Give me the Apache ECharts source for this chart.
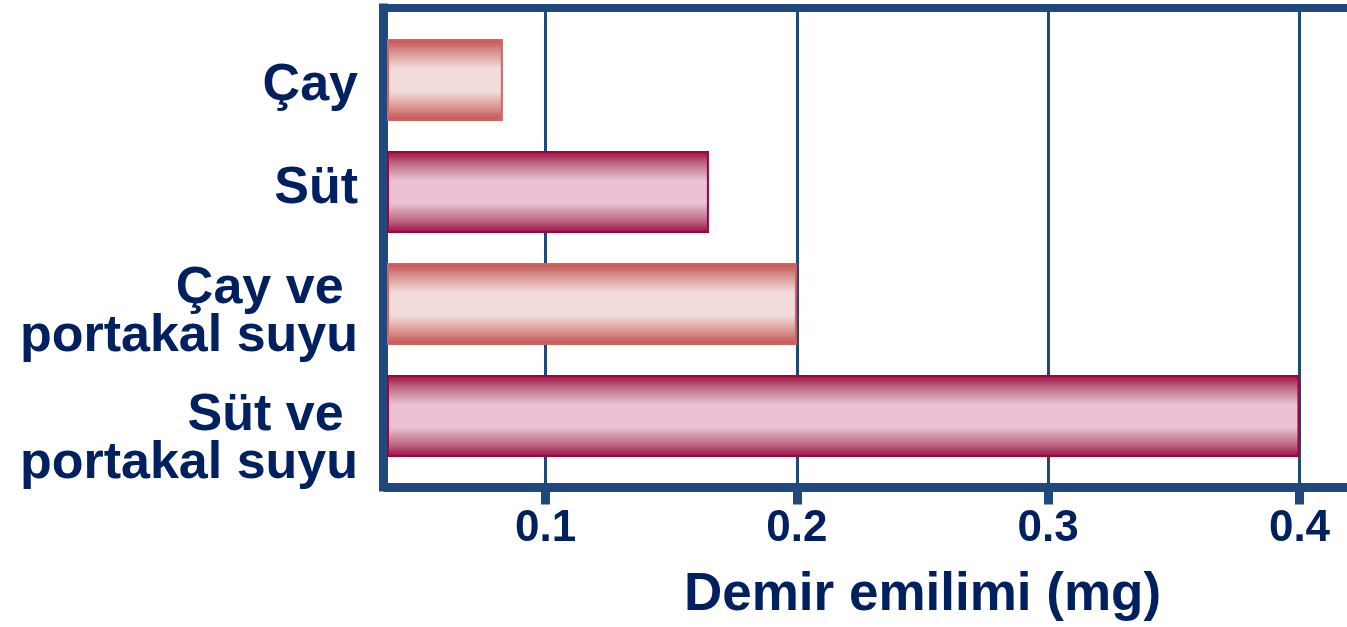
<!DOCTYPE html>
<html>
<head>
<meta charset="utf-8">
<script src="https://cdn.jsdelivr.net/npm/echarts@6/dist/echarts.min.js"></script>
<style>
  html, body { margin: 0; padding: 0; background: #ffffff; }
  #chart { width: 1347px; height: 627px; }
</style>
</head>
<body>
<div id="chart"></div>
<script>
// Iron absorption by drink combination
const categories = ['Çay', 'Süt', 'Çay ve \nportakal suyu', 'Süt ve \nportakal suyu'];
const values = [0.083, 0.165, 0.2, 0.4];
const drinkKind = ['tea', 'milk', 'tea', 'milk'];
const tickValues = [0.1, 0.2, 0.3, 0.4];
const axisTitle = 'Demir emilimi (mg)';
const xMin = 0.0373;
const xMax = 0.4189;

const frameColor = '#1f497d';
const textColor = '#002060';
const fontFamily = '"Liberation Sans", Arial, sans-serif';

// vertical nudge (px, positive = down) of each category label's text block
const labelNudge = [6, -3, 9, 24];

// Shaded "cylinder" fills for the two drink kinds
function tube(edge, soft, light) {
  return new echarts.graphic.LinearGradient(0, 0, 0, 1, [
    { offset: 0, color: edge },
    { offset: 0.14, color: soft },
    { offset: 0.36, color: light },
    { offset: 0.5, color: light },
    { offset: 0.64, color: light },
    { offset: 0.86, color: soft },
    { offset: 1, color: edge }
  ]);
}
const kindStyle = {
  tea: { fill: () => tube('#c0504d', '#d48a88', '#f2dcdb'), border: '#d9625f' },
  milk: { fill: () => tube('#9c0a3f', '#b8647f', '#e8c1d2'), border: '#a3003f' }
};

const barData = values.map((v, i) => ({
  value: v,
  itemStyle: {
    color: kindStyle[drinkKind[i]].fill(),
    borderColor: kindStyle[drinkKind[i]].border,
    borderWidth: 2
  }
}));

// Rich-text styles: with a fixed lineHeight, vertical padding moves every
// line of a label by half the padding without changing the line spacing
const labelFont = { color: textColor, fontSize: 52, fontWeight: 'bold', fontFamily: fontFamily, lineHeight: 48 };
const labelRich = {};
labelNudge.forEach((d, i) => {
  labelRich['n' + i] = Object.assign({}, labelFont, {
    padding: d >= 0 ? [2 * d, 0, 0, 0] : [0, 0, -2 * d, 0]
  });
});

const chart = echarts.init(document.getElementById('chart'), null, { renderer: 'canvas' });

chart.setOption({
  animation: false,
  backgroundColor: '#ffffff',
  grid: [
    // frame + value scale
    { left: 388, right: 0, top: 8, bottom: 139.5 },
    // bars
    { left: 388, right: 0, top: 24, height: 448 }
  ],
  xAxis: [
    {
      gridIndex: 0,
      type: 'value',
      position: 'bottom',
      min: xMin,
      max: xMax,
      axisLine: { show: true, lineStyle: { color: frameColor, width: 9, cap: 'square' } },
      axisTick: { show: true, customValues: tickValues, length: 17.5, lineStyle: { color: frameColor, width: 9 } },
      axisLabel: {
        customValues: tickValues,
        margin: 20,
        color: textColor,
        fontSize: 44,
        fontWeight: 'bold',
        fontFamily: fontFamily,
        formatter: v => v.toFixed(1)
      },
      splitLine: { show: true, lineStyle: { color: frameColor, width: 3 } },
      name: axisTitle,
      nameLocation: 'middle',
      nameGap: 82,
      nameTextStyle: {
        color: textColor,
        fontSize: 53,
        fontWeight: 'bold',
        fontFamily: fontFamily,
        padding: [0, 0, 0, 110]
      }
    },
    {
      gridIndex: 0,
      type: 'value',
      position: 'top',
      min: xMin,
      max: xMax,
      axisLine: { show: true, lineStyle: { color: frameColor, width: 8, cap: 'square' } },
      axisTick: { show: false },
      axisLabel: { show: false },
      splitLine: { show: false }
    },
    {
      gridIndex: 1,
      type: 'value',
      min: xMin,
      max: xMax,
      show: false
    }
  ],
  yAxis: [
    {
      gridIndex: 0,
      type: 'value',
      min: 0,
      max: 1,
      position: 'left',
      offset: 4.5,
      axisLine: { show: true, lineStyle: { color: frameColor, width: 9, cap: 'square' } },
      axisTick: { show: false },
      axisLabel: { show: false },
      splitLine: { show: false }
    },
    {
      gridIndex: 1,
      type: 'category',
      data: categories,
      inverse: true,
      axisLine: { show: false },
      axisTick: { show: false },
      axisLabel: {
        interval: 0,
        margin: 30,
        align: 'right',
        color: textColor,
        fontSize: 52,
        fontWeight: 'bold',
        fontFamily: fontFamily,
        lineHeight: 48,
        formatter: (value, index) => value.split('\n')
          .map(line => '{n' + index + '|' + line + '}')
          .join('\n'),
        rich: labelRich
      }
    }
  ],
  series: [
    {
      type: 'bar',
      xAxisIndex: 2,
      yAxisIndex: 1,
      barCategoryGap: '26.8%',
      clip: true,
      data: barData
    }
  ]
});
</script>
</body>
</html>
